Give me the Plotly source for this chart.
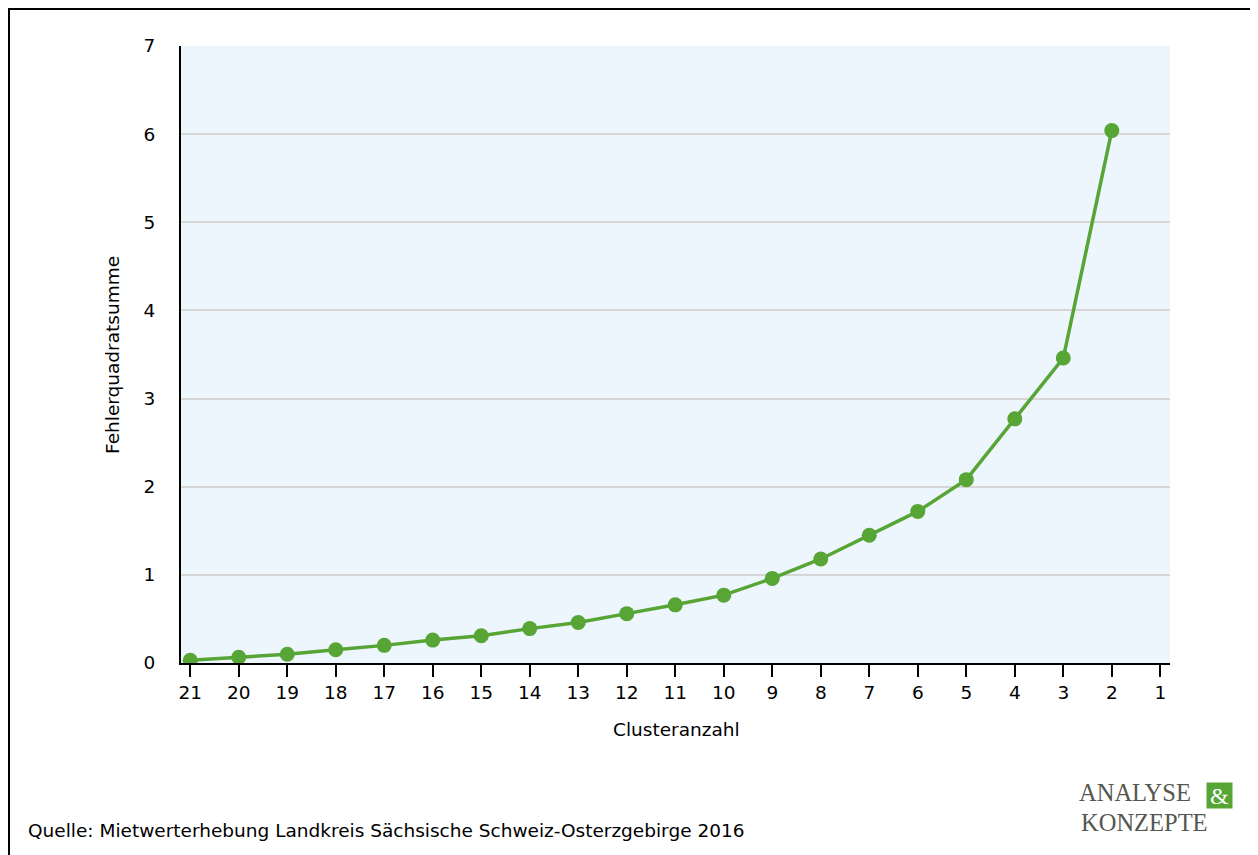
import plotly.graph_objects as go

clusters = [21, 20, 19, 18, 17, 16, 15, 14, 13, 12, 11, 10, 9, 8, 7, 6, 5, 4, 3, 2]
sse = [0.03, 0.065, 0.10, 0.15, 0.20, 0.26, 0.31, 0.39, 0.46, 0.56, 0.66, 0.77, 0.96, 1.18, 1.45, 1.72, 2.08, 2.77, 3.46, 6.04]
x_ticks = list(range(21, 0, -1))
y_ticks = [0, 1, 2, 3, 4, 5, 6, 7]

W, H = 1258, 855
OFF = 8  # page body offset
L, R, T, B = 181 - OFF, 1170 - OFF, 46 - OFF, 663 - OFF
FONT = "DejaVu Sans"
FS = 18.5
GREEN = "#56A535"

fig = go.Figure()
fig.add_trace(go.Scatter(
    x=clusters, y=sse, mode="lines+markers",
    line=dict(color=GREEN, width=3.5),
    marker=dict(color=GREEN, size=15),
    showlegend=False, hoverinfo="x+y"))

def px(xp):
    return (xp - OFF - L) / (R - L)

def py(yp):
    return (B - (yp - OFF)) / (B - T)

fig.update_layout(
    width=W, height=H,
    margin=dict(l=L, r=W - R, t=T, b=H - B),
    paper_bgcolor="white", plot_bgcolor="#EDF5FD",
    font=dict(family=FONT, size=FS, color="black"),
    xaxis=dict(range=[21.19, 0.8], tickmode="array", tickvals=x_ticks,
               ticktext=[str(v) for v in x_ticks], ticks="outside", ticklen=12,
               tickwidth=2, tickcolor="black", showline=True, linecolor="black",
               linewidth=2, showgrid=False, zeroline=False,
               tickfont=dict(family=FONT, size=FS), fixedrange=True),
    yaxis=dict(range=[0, 7], tickmode="array", tickvals=y_ticks,
               ticktext=[str(v) for v in y_ticks], ticks="", showline=True,
               linecolor="black", linewidth=2, showgrid=True, gridcolor="#D6D6D6",
               gridwidth=1.5, zeroline=False, ticklabelstandoff=20,
               tickfont=dict(family=FONT, size=FS), fixedrange=True),
    shapes=[
        dict(type="rect", xref="paper", yref="paper",
             x0=px(9), x1=px(1252), y0=py(900), y1=py(9),
             line=dict(color="black", width=2), fillcolor="rgba(0,0,0,0)", layer="below"),
    ],
    annotations=[
        dict(text="Fehlerquadratsumme", xref="paper", yref="paper",
             x=px(112), y=py(355), textangle=-90, showarrow=False,
             font=dict(family=FONT, size=FS), xanchor="center", yanchor="middle"),
        dict(text="Clusteranzahl", xref="paper", yref="paper",
             x=px(676), y=py(730), showarrow=False,
             font=dict(family=FONT, size=FS), xanchor="center", yanchor="middle"),
        dict(text="Quelle: Mietwerterhebung Landkreis Sächsische Schweiz-Osterzgebirge 2016",
             xref="paper", yref="paper", x=px(26), y=py(830), showarrow=False,
             font=dict(family=FONT, size=FS), xanchor="left", yanchor="middle"),
        dict(text="ANALYSE", xref="paper", yref="paper", x=px(1077), y=py(792),
             showarrow=False, font=dict(family="Liberation Serif", size=24.5, color="#55574F"),
             xanchor="left", yanchor="middle"),
        dict(text="&", xref="paper", yref="paper", x=px(1219.5), y=py(795),
             showarrow=False, font=dict(family="Liberation Serif", size=24, color="white"),
             bgcolor=GREEN, xanchor="center", yanchor="middle", borderpad=0, width=25, height=25),
        dict(text="KONZEPTE", xref="paper", yref="paper", x=px(1079), y=py(822),
             showarrow=False, font=dict(family="Liberation Serif", size=24.5, color="#55574F"),
             xanchor="left", yanchor="middle"),
    ],
)

fig.write_html("out.html")
